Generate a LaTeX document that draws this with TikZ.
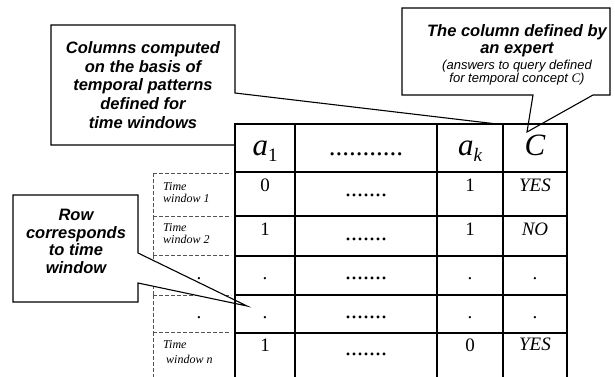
\documentclass[tikz,border=0pt]{standalone}
\usepackage{fontspec}
\setmainfont{Liberation Serif}
\newfontfamily\calloutfont{Liberation Sans}
\begin{document}
\begin{tikzpicture}[x=1pt,y=-1pt,
  grid/.style={line width=2.2pt, line cap=rect},
  twline/.style={draw=gray!65!black, dash pattern=on 3.5pt off 2.5pt, line width=0.9pt},
  callout/.style={draw=black, fill=white, line width=1.1pt, line join=miter},
  calltext/.style={font=\calloutfont\bfseries\itshape\fontsize{16.5}{18.7}\selectfont, align=center, inner sep=0pt},
  subtext/.style={font=\calloutfont\itshape\fontsize{13}{13.5}\selectfont, align=center, inner sep=0pt},
  head/.style={font=\fontsize{31}{31}\selectfont, anchor=base, inner sep=0pt},
  hdots/.style={font=\fontsize{27}{27}\selectfont, anchor=base, inner sep=0pt},
  cell/.style={font=\fontsize{19}{19}\selectfont, anchor=base, inner sep=0pt},
  rdots/.style={font=\fontsize{24}{24}\selectfont, anchor=base, inner sep=0pt},
  twlabel/.style={font=\itshape\fontsize{12}{12.5}\selectfont, align=left, anchor=north west, inner sep=0pt}]

\useasboundingbox (0,0) rectangle (615,377);

% dashed column of time-window labels
\foreach \y in {173,216,255,295,332}
  \draw[twline] (153,\y) -- (231,\y);
\foreach \ya/\yb in {173/216,216/255,255/295,295/332,332/377}
  \draw[twline] (153,\ya) -- (153,\yb);

% callout: computed columns
\coordinate (tipA) at (497,124);
\draw[callout] (51,25) -- (235,25) -- (235,93) -- (tipA) -- (235,124) -- (235,145) -- (51,145) -- cycle;
\node[calltext] (noteA) at (143,85) {Columns computed\\on the basis of\\temporal patterns\\defined for\\time windows};

% callout: expert column
\coordinate (tipC) at (527,132);
\draw[callout] (402,8) -- (610,8) -- (610,95) -- (593,95) -- (tipC) -- (533,95) -- (402,95) -- cycle;
\node[calltext, font=\calloutfont\bfseries\itshape\fontsize{16.5}{17}\selectfont] (noteC) at (517,41) {The column defined by\\an expert};
\node[subtext] (noteCsub) at (517,72.5) {(answers to query defined\\for temporal concept {\rmfamily\itshape C})};

% callout: rows
\coordinate (tipR) at (247,306);
\draw[callout] (13,195) -- (138,195) -- (138,253) -- (tipR) -- (138,283) -- (138,302) -- (13,302) -- cycle;
\node[calltext, font=\calloutfont\bfseries\itshape\fontsize{16.5}{17.7}\selectfont] (noteR) at (76,241.5) {Row\\corresponds\\to time\\window};

% table grid
\foreach \x in {235,295,437,503,567}
  \draw[grid] (\x,124) -- (\x,380);
\foreach \y in {124,172,216,256,295,333}
  \draw[grid] (235,\y) -- (567,\y);

% header
\node[head] (ha1) at (265,155) {\itshape a\raisebox{-0.22em}{\upshape\fontsize{19}{19}\selectfont 1}};
\node[hdots] (hdots) at (366,155) {...........};
\node[head] (hak) at (470,155) {\itshape a\raisebox{-0.22em}{\fontsize{19}{19}\selectfont k}};
\node[head] (hC) at (535,155) {\itshape C};

% time-window labels
\node[twlabel] (tw1) at (163,182) {Time\\window 1};
\node[twlabel] (tw2) at (163,223) {Time\\window 2};
\node[twlabel] (twn) at (163,340) {Time\\[3pt]\hspace*{3pt}window n};
\node[cell] (tw3) at (199,279) {.};
\node[cell] (tw4) at (199,318) {.};

% row 1
\node[cell] (r1a) at (265,191.5) {0};
\node[rdots] (r1d) at (366,196) {.......};
\node[cell] (r1k) at (470,191) {1};
\node[cell] (r1c) at (535,191.5) {\itshape YES};
% row 2
\node[cell] (r2a) at (265,235) {1};
\node[rdots] (r2d) at (366,240) {.......};
\node[cell] (r2k) at (470,235) {1};
\node[cell] (r2c) at (535,235) {\itshape NO};
% row 3
\node[cell] (r3a) at (265,279) {.};
\node[rdots] (r3d) at (366,279) {.......};
\node[cell] (r3k) at (470,279) {.};
\node[cell] (r3c) at (535,279) {.};
% row 4
\node[cell] (r4a) at (265,318) {.};
\node[rdots] (r4d) at (366,318) {.......};
\node[cell] (r4k) at (470,318) {.};
\node[cell] (r4c) at (535,318) {.};
% row 5
\node[cell] (r5a) at (265,351) {1};
\node[rdots] (r5d) at (366,355) {.......};
\node[cell] (r5k) at (470,351) {0};
\node[cell] (r5c) at (535,350.5) {\itshape YES};
\end{tikzpicture}
\end{document}
